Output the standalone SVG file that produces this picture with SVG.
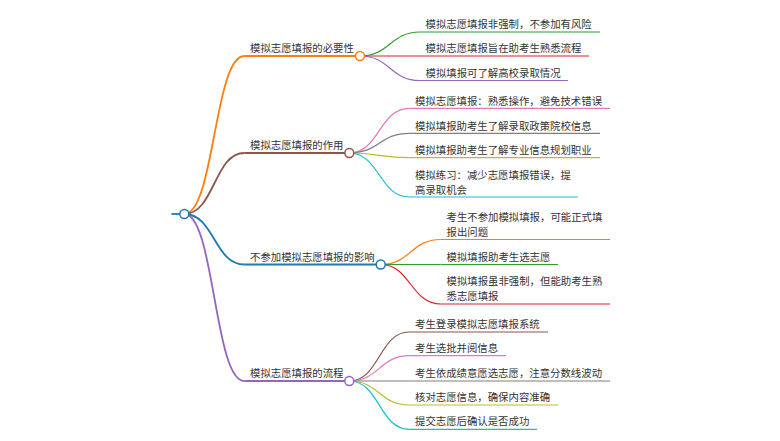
<svg xmlns="http://www.w3.org/2000/svg" width="780" height="441" viewBox="0 0 780 441">
<style>
  text { font-family: "Noto Sans CJK SC", "Noto Sans", sans-serif; font-size: 10.4px; fill: #333; }
  .l1 { fill: none; stroke-width: 1.8; }
  .l2 { fill: none; stroke-width: 1.2; }
  .dot { fill: #fff; stroke-width: 1.5; }
  .c-orange { stroke: #ff7f0e; } .c-green { stroke: #2ca02c; } .c-red { stroke: #d62728; }
  .c-purple { stroke: #9467bd; } .c-brown { stroke: #8c564b; } .c-pink { stroke: #e377c2; }
  .c-gray { stroke: #7f7f7f; } .c-olive { stroke: #bcbd22; } .c-cyan { stroke: #17becf; }
  .c-blue { stroke: #1f77b4; }
</style>
<rect width="780" height="441" fill="#fff"/>
<g id="connectors">
  <path class="l1 c-orange" d="M184.3,214 C214.3,214 214.3,56 244.3,56"/>
  <path class="l1 c-brown" d="M184.3,214 C214.3,214 214.3,153 244.3,153"/>
  <path class="l1 c-blue" d="M184.3,214 C214.3,214 214.3,264.5 244.3,264.5"/>
  <path class="l1 c-purple" d="M184.3,214 C214.3,214 214.3,381 244.3,381"/>
  <path class="l2 c-green" d="M360,56 C390,56 390,32 420,32"/>
  <path class="l2 c-red" d="M360,56 L420,56"/>
  <path class="l2 c-purple" d="M360,56 C390,56 390,80.5 420,80.5"/>
  <path class="l2 c-pink" d="M349.3,153 C379.3,153 379.3,108.3 409.3,108.3"/>
  <path class="l2 c-gray" d="M349.3,153 C379.3,153 379.3,133.3 409.3,133.3"/>
  <path class="l2 c-olive" d="M349.3,153 C379.3,153 379.3,157.7 409.3,157.7"/>
  <path class="l2 c-cyan" d="M349.3,153 C379.3,153 379.3,197 409.3,197"/>
  <path class="l2 c-orange" d="M380.7,264.5 C410.7,264.5 410.7,239.5 440.7,239.5"/>
  <path class="l2 c-green" d="M380.7,264.5 L440.7,264.5"/>
  <path class="l2 c-red" d="M380.7,264.5 C410.7,264.5 410.7,304 440.7,304"/>
  <path class="l2 c-brown" d="M349.3,381 C379.3,381 379.3,332 409.3,332"/>
  <path class="l2 c-pink" d="M349.3,381 C379.3,381 379.3,355.7 409.3,355.7"/>
  <path class="l2 c-gray" d="M349.3,381 L409.3,381"/>
  <path class="l2 c-olive" d="M349.3,381 C379.3,381 379.3,405 409.3,405"/>
  <path class="l2 c-cyan" d="M349.3,381 C379.3,381 379.3,429.3 409.3,429.3"/>
</g>
<g id="root">
  <line class="l1 c-blue" x1="171.5" y1="214" x2="184.3" y2="214"/>
  <circle class="dot c-blue" cx="184.3" cy="214" r="4.5"/>
</g>
<g id="n1">
  <line class="l1 c-orange" x1="244.3" y1="56" x2="360" y2="56"/>
  <text x="250" y="52">模拟志愿填报的必要性</text>
  <circle class="dot c-orange" cx="360" cy="56" r="4.5"/>
</g>
<g id="n1-1">
  <line class="l2 c-green" x1="420" y1="32" x2="600" y2="32"/>
  <text x="425.5" y="28">模拟志愿填报非强制，不参加有风险</text>
</g>
<g id="n1-2">
  <line class="l2 c-red" x1="420" y1="56" x2="589" y2="56"/>
  <text x="425.5" y="52">模拟志愿填报旨在助考生熟悉流程</text>
</g>
<g id="n1-3">
  <line class="l2 c-purple" x1="420" y1="80.5" x2="568" y2="80.5"/>
  <text x="425.5" y="76.5">模拟填报可了解高校录取情况</text>
</g>
<g id="n2">
  <line class="l1 c-brown" x1="244.3" y1="153" x2="349.3" y2="153"/>
  <text x="250" y="149">模拟志愿填报的作用</text>
  <circle class="dot c-brown" cx="349.3" cy="153" r="4.5"/>
</g>
<g id="n2-1">
  <line class="l2 c-pink" x1="409.3" y1="108.3" x2="610" y2="108.3"/>
  <text x="415" y="104.5">模拟志愿填报：熟悉操作，避免技术错误</text>
</g>
<g id="n2-2">
  <line class="l2 c-gray" x1="409.3" y1="133.3" x2="600" y2="133.3"/>
  <text x="415" y="129.5">模拟填报助考生了解录取政策院校信息</text>
</g>
<g id="n2-3">
  <line class="l2 c-olive" x1="409.3" y1="157.7" x2="600" y2="157.7"/>
  <text x="415" y="154">模拟填报助考生了解专业信息规划职业</text>
</g>
<g id="n2-4">
  <line class="l2 c-cyan" x1="409.3" y1="197" x2="578" y2="197"/>
  <text x="415" y="178.5">模拟练习：减少志愿填报错误，提</text>
  <text x="415" y="193.5">高录取机会</text>
</g>
<g id="n3">
  <line class="l1 c-blue" x1="244.3" y1="264.5" x2="380.7" y2="264.5"/>
  <text x="250" y="260.5">不参加模拟志愿填报的影响</text>
  <circle class="dot c-blue" cx="380.7" cy="264.5" r="4.5"/>
</g>
<g id="n3-1">
  <line class="l2 c-orange" x1="440.7" y1="239.5" x2="610" y2="239.5"/>
  <text x="446.5" y="220.5">考生不参加模拟填报，可能正式填</text>
  <text x="446.5" y="235.5">报出问题</text>
</g>
<g id="n3-2">
  <line class="l2 c-green" x1="440.7" y1="264.5" x2="558" y2="264.5"/>
  <text x="446.5" y="260.5">模拟填报助考生选志愿</text>
</g>
<g id="n3-3">
  <line class="l2 c-red" x1="440.7" y1="304" x2="610" y2="304"/>
  <text x="446.5" y="285">模拟填报虽非强制，但能助考生熟</text>
  <text x="446.5" y="300">悉志愿填报</text>
</g>
<g id="n4">
  <line class="l1 c-purple" x1="244.3" y1="381" x2="349.3" y2="381"/>
  <text x="250" y="377">模拟志愿填报的流程</text>
  <circle class="dot c-purple" cx="349.3" cy="381" r="4.5"/>
</g>
<g id="n4-1">
  <line class="l2 c-brown" x1="409.3" y1="332" x2="548" y2="332"/>
  <text x="415" y="328">考生登录模拟志愿填报系统</text>
</g>
<g id="n4-2">
  <line class="l2 c-pink" x1="409.3" y1="355.7" x2="506" y2="355.7"/>
  <text x="415" y="352">考生选批并阅信息</text>
</g>
<g id="n4-3">
  <line class="l2 c-gray" x1="409.3" y1="381" x2="610" y2="381"/>
  <text x="415" y="377">考生依成绩意愿选志愿，注意分数线波动</text>
</g>
<g id="n4-4">
  <line class="l2 c-olive" x1="409.3" y1="405" x2="558" y2="405"/>
  <text x="415" y="401">核对志愿信息，确保内容准确</text>
</g>
<g id="n4-5">
  <line class="l2 c-cyan" x1="409.3" y1="429.3" x2="537" y2="429.3"/>
  <text x="415" y="425.3">提交志愿后确认是否成功</text>
</g>
</svg>
